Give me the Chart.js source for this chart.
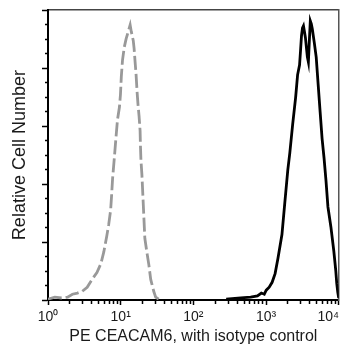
<!DOCTYPE html>
<html>
<head>
<meta charset="utf-8">
<script src="https://cdn.jsdelivr.net/npm/chart.js@4/dist/chart.umd.min.js"></script>
<style>
html,body{margin:0;padding:0;background:#fff;}
#wrap{width:364px;height:353px;position:relative;}
</style>
</head>
<body>
<div id="wrap"><canvas id="c" width="364" height="353"></canvas></div>
<script>
// Isotype control (grey, dashed): fluorescence intensity vs relative cell number (%)
const isoX = [1.0,1.24,1.54,1.86,2.17,2.54,2.96,3.46,4.04,4.71,5.34,5.86,6.43,6.84,7.28,7.50,7.74,8.24,8.49,9.04,9.62,9.93,10.2,10.6,11.2,11.9,12.7,13.5,14.0,14.9,15.3,15.8,16.3,16.8,17.3,17.9,18.5,18.7,19.0,19.6,20.2,20.9,21.5,22.9,24.4,25.9,28.5,30.3,33.3];
const isoY = [0.3,1.0,0.7,1.0,2.0,2.4,3.0,4.4,7.1,9.5,12.5,16.6,22.0,26.0,31.1,36.1,41.9,50.0,54.1,62.2,66.6,70.9,77.0,82.8,87.2,90.2,92.6,94.9,92.6,89.5,86.8,82.1,77.7,72.0,67.6,63.5,58.4,53.4,48.3,43.2,36.1,28.0,21.3,16.6,12.2,7.1,3.0,1.0,0.3];
// CEACAM6 stained (black)
const ceaX = [283,450,614,762,863,946,1007,1106,1213,1333,1462,1656,1816,1994,2123,2329,2555,2718,2892,2985,3077,3176,3275,3380,3484,3593,3707,3826,3945,4068,4198,4329,4608,4903,5217,5551,5907,6285,6683,7112,7800,8562,9113,9400,9700,10000];
const ceaY = [0.3,0.7,1.0,1.4,2.4,2.0,3.4,4.4,6.1,9.1,14.5,22.6,33.8,44.9,50.7,60.8,69.9,77.7,81.1,86.1,91.2,93.9,94.6,92.6,90.5,87.2,83.8,82.1,89.5,96.3,95.3,93.6,88.9,83.8,74.3,64.9,55.7,49.0,41.2,32.1,25.3,16.9,10.1,5.7,2.7,0.7];
// Axis tick labels
const xTickValues = [1,10,100,1000,10000];
const xTickLabels = ['10\u2070','10\u00B9','10\u00B2','10\u00B3','10\u2074\u2002\u2002\u2002'];
const xTitle = 'PE CEACAM6, with isotype control';
const yTitle = 'Relative Cell Number';

const toPts = (xs, ys) => xs.map((x, i) => ({x: x, y: ys[i]}));

Chart.defaults.font.family = "'Liberation Sans', Arial, sans-serif";
Chart.defaults.color = '#1a1a1a';

new Chart(document.getElementById('c'), {
  type: 'scatter',
  data: {
    datasets: [
      {
        label: 'Isotype control',
        data: toPts(isoX, isoY),
        showLine: true,
        borderColor: '#999999',
        borderWidth: 2.8,
        borderDash: [14, 4],
        pointRadius: 0,
        tension: 0,
        fill: false
      },
      {
        label: 'PE CEACAM6',
        data: toPts(ceaX, ceaY),
        showLine: true,
        borderColor: '#000',
        borderWidth: 2.8,
        pointRadius: 0,
        tension: 0,
        fill: false
      }
    ]
  },
  options: {
    responsive: false,
    animation: false,
    layout: {padding: {top: 4, right: 19, left: 0, bottom: 0}},
    plugins: {legend: {display: false}, tooltip: {enabled: false}},
    scales: {
      x: {
        type: 'logarithmic',
        position: 'bottom',
        min: 1,
        max: 10000,
        afterBuildTicks: (s) => {
          s.ticks = s.ticks.filter(t => {
            const m = t.value / Math.pow(10, Math.floor(Math.log10(t.value) + 1e-9));
            return Math.abs(m - 1.5) > 1e-6;
          });
        },
        afterFit: (s) => { s.height = 53; },
        border: {display: true, color: '#000', width: 2},
        grid: {
          display: true,
          drawOnChartArea: false,
          drawTicks: true,
          tickLength: 5,
          tickWidth: 1.5,
          tickColor: '#000',
          tickBorderDash: (ctx) => {
            const v = ctx.tick ? ctx.tick.value : 0;
            return xTickValues.some(t => Math.abs(t - v) < 1e-6) ? [] : [3, 20];
          }
        },
        ticks: {
          autoSkip: false,
          maxRotation: 0,
          padding: 4,
          font: {size: 14},
          color: '#1a1a1a',
          callback: (value) => {
            const i = xTickValues.findIndex(t => Math.abs(t - value) < 1e-6);
            return i >= 0 ? xTickLabels[i] : '';
          }
        },
        title: {
          display: true,
          text: xTitle,
          font: {size: 16},
          color: '#1a1a1a',
          padding: {top: 0, bottom: 7}
        }
      },
      x2: {
        type: 'linear',
        position: 'top',
        min: 0, max: 1,
        afterFit: (s) => { s.height = 0; },
        border: {display: true, color: '#444', width: 1.5},
        grid: {display: false},
        ticks: {display: false}
      },
      y: {
        type: 'linear',
        position: 'left',
        min: 0,
        max: 100,
        afterFit: (s) => { s.width = 48; },
        border: {display: true, color: '#000', width: 2},
        grid: {
          display: true,
          drawOnChartArea: false,
          drawTicks: true,
          tickLength: 6,
          tickWidth: 1.5,
          tickColor: '#000',
          tickBorderDash: (ctx) => {
            const v = ctx.tick ? ctx.tick.value : 0;
            return (Math.round(v) % 20 === 0) ? [] : [0, 3, 3, 20];
          }
        },
        ticks: {
          stepSize: 5,
          autoSkip: false,
          callback: () => ''
        },
        title: {
          display: true,
          text: yTitle,
          font: {size: 18},
          color: '#1a1a1a',
          padding: {top: 9, bottom: 0}
        }
      },
      y2: {
        type: 'linear',
        position: 'right',
        min: 0, max: 1,
        afterFit: (s) => { s.width = 0; },
        border: {display: true, color: '#555', width: 1.5},
        grid: {display: false},
        ticks: {display: false}
      }
    }
  }
});
</script>
</body>
</html>
